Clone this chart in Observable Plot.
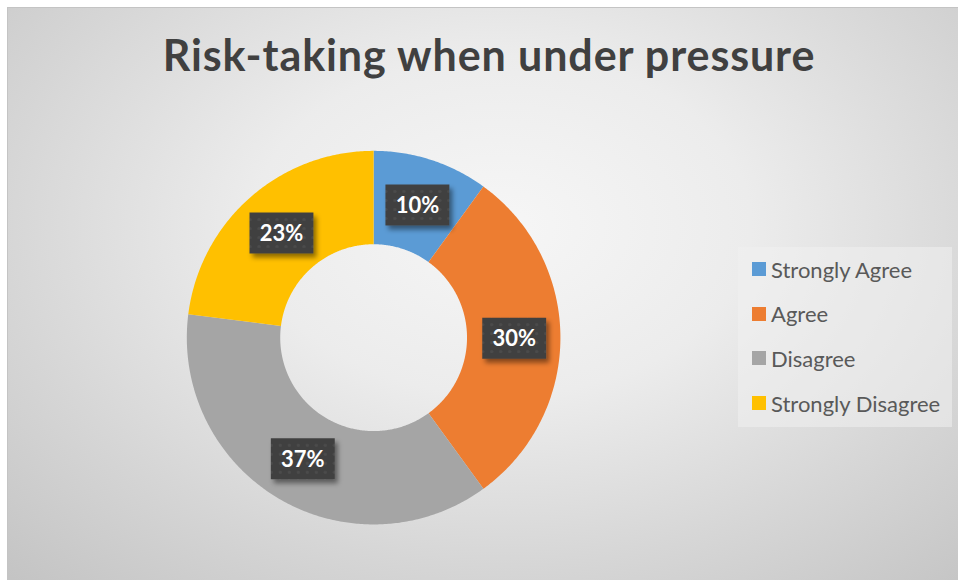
<!DOCTYPE html>
<html>
<head>
<meta charset="utf-8">
<script src="https://cdn.jsdelivr.net/npm/d3@7"></script>
<script src="https://cdn.jsdelivr.net/npm/@observablehq/plot@0.6"></script>
<style>
  html, body { margin: 0; padding: 0; background: #ffffff; }
  #frame {
    position: absolute; left: 7px; top: 7px; width: 951px; height: 573px;
    box-sizing: border-box; border-top: 1px solid #c4c4c4; border-left: 1px solid #c4c4c4;
    background: radial-gradient(ellipse 75% 85% at 52% 38%, #f6f6f6 0%, #ececec 35%, #d6d6d6 70%, #c4c4c4 100%);
    overflow: hidden; font-family: Lato, "Open Sans", sans-serif;
  }
  #title {
    position: absolute; left: 481px; top: 21px; transform: translateX(-50%);
    white-space: nowrap; font-weight: 700; font-size: 43px; letter-spacing: 0.9px; color: #404040;
  }
  #chart { position: absolute; left: 0; top: 0; }
  #legend {
    position: absolute; left: 730px; top: 239px; width: 214px; height: 180px;
    background: rgba(240,240,240,0.55);
  }
  .item { position: absolute; left: 14px; height: 24px; display: flex; align-items: center;
    font-size: 22px; color: #595959; white-space: nowrap; }
  .sw { width: 14px; height: 14px; margin-right: 5px; }
</style>
</head>
<body>
<div id="frame">
  <div id="title">Risk-taking when under pressure</div>
  <div id="chart"></div>
  <div id="legend"></div>
</div>
<script>
const categories = ["Strongly Agree", "Agree", "Disagree", "Strongly Disagree"];
const values = [10, 30, 37, 23];
const colors = ["#5B9BD5", "#ED7D31", "#A5A5A5", "#FFC000"];
const labels = values.map(v => v + "%");

const total = d3.sum(values);
const innerR = 0.5, outerR = 1, labelR = 0.75;

// slice edges in unit coordinates (clockwise from 12 o'clock)
const ringPts = [];
const labelPts = [];
let cum = 0;
categories.forEach((cat, i) => {
  const a0 = cum / total * 2 * Math.PI;
  cum += values[i];
  const a1 = cum / total * 2 * Math.PI;
  const n = Math.max(8, Math.ceil((a1 - a0) / 0.01));
  for (let k = 0; k <= n; k++) {
    const a = a0 + (a1 - a0) * k / n;
    ringPts.push({
      cat,
      ox: outerR * Math.sin(a), oy: outerR * Math.cos(a),
      ix: innerR * Math.sin(a), iy: innerR * Math.cos(a)
    });
  }
  const m = (a0 + a1) / 2;
  labelPts.push({cat, label: labels[i], x: labelR * Math.sin(m), y: labelR * Math.cos(m)});
});

const boxSymbol = { draw(ctx) { ctx.rect(-32, -20.5, 64, 41); } };

const cx = 366, cy = 330, R = 187;

const chart = Plot.plot({
  width: 951,
  height: 573,
  margin: 0,
  style: {background: "transparent"},
  x: {domain: [-1, 1], range: [cx - R, cx + R], axis: null},
  y: {domain: [-1, 1], range: [cy + R, cy - R], axis: null},
  color: {domain: categories, range: colors},
  marks: [
    Plot.area(ringPts, {x1: "ox", y1: "oy", x2: "ix", y2: "iy", z: "cat", fill: "cat"}),
    Plot.dot(labelPts, {x: "x", y: "y", symbol: boxSymbol, fill: "#404040", stroke: "none"}),
    Plot.text(labelPts, {x: "x", y: "y", text: "label", fill: "white", fontSize: 22, fontWeight: 700, fontFamily: "Lato", dy: 1})
  ]
});

// decorative extras: dotted texture + drop shadow for the label boxes
const svg = d3.select(chart);
const defs = svg.insert("defs", ":first-child");
const p = defs.append("pattern").attr("id", "dots").attr("patternUnits", "userSpaceOnUse")
  .attr("width", 9).attr("height", 9);
p.append("rect").attr("width", 9).attr("height", 9).attr("fill", "#404040");
p.append("circle").attr("cx", 4.5).attr("cy", 4.5).attr("r", 1.6).attr("fill", "#4c4c4c");
const f = defs.append("filter").attr("id", "shadow").attr("x", "-30%").attr("y", "-30%").attr("width", "160%").attr("height", "160%");
f.append("feDropShadow").attr("dx", 3).attr("dy", 4).attr("stdDeviation", 2.5).attr("flood-color", "#000").attr("flood-opacity", 0.45);
svg.selectAll("g[aria-label=dot] path").attr("fill", "url(#dots)").attr("filter", "url(#shadow)");
document.getElementById("chart").appendChild(chart);

// legend
const legend = d3.select("#legend");
categories.forEach((c, i) => {
  const it = legend.append("div").attr("class", "item").style("top", (10 + i * 44.7) + "px");
  it.append("div").attr("class", "sw").style("background", colors[i]);
  it.append("span").text(c);
});
</script>
</body>
</html>
